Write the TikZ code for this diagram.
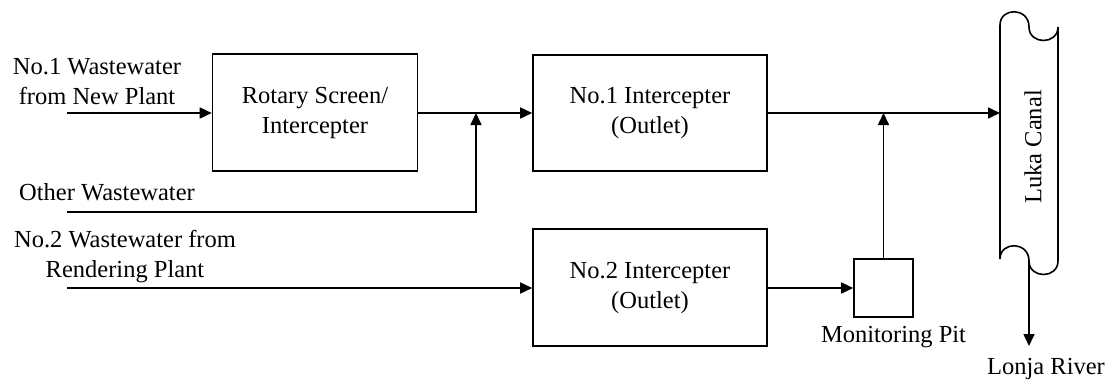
\documentclass[tikz,border=0pt]{standalone}
\usepackage{fontspec}
\setmainfont{Liberation Serif}
\usetikzlibrary{arrows.meta}
\begin{document}
\begin{tikzpicture}[x=1pt,y=-1pt,
  every node/.style={font=\fontsize{24.5}{30}\selectfont, inner sep=0pt},
  box/.style={draw, line width=1.6pt, align=center, minimum width=#1},
  lbl/.style={align=center},
  flow/.style={line width=1.6pt, -{Triangle[length=12pt,width=11pt]}},
  plain/.style={line width=1.6pt}]
\useasboundingbox (0,0) rectangle (1109,381);
\node[box=205pt, minimum height=117pt] (rot) at (315,112.5) {Rotary Screen/\\Intercepter};
\node[box=234pt, minimum height=116pt] (no1) at (650,113) {No.1 Intercepter\\(Outlet)};
\node[box=234pt, minimum height=117pt] (no2) at (650,287.5) {No.2 Intercepter\\(Outlet)};
\node[box=59pt, minimum height=58pt] (pit) at (883.5,288) {};
\node[lbl] (in1) at (97,82) {No.1 Wastewater\\from New Plant};
\node[lbl] (oth) at (107,192) {Other Wastewater};
\node[lbl] (in2) at (125,257) {No.2 Wastewater from\\Rendering Plant};
\node[lbl] (pitl) at (893.5,337) {Monitoring Pit};
\node[lbl] (lonja) at (1046,369) {Lonja River};
\node[rotate=90] (luka) at (1033,147) {Luka Canal};
% canal shape
\draw[plain] (1000,259) -- (1000,25)
  .. controls (1000,7) and (1029,7) .. (1029,27)
  .. controls (1029,45) and (1058,45) .. (1058,27)
  -- (1058,261)
  .. controls (1058,279) and (1029,279) .. (1029,261)
  .. controls (1029,241) and (1000,241) .. (1000,259);
\coordinate (cin) at (1000,113);
\coordinate (cout) at (1029,261);
\coordinate (riv) at (1029,346);
\coordinate (s1) at (67,113);
\coordinate (s2) at (67,212);
\coordinate (s3) at (67,288);
\coordinate (j1) at (476,113);
\coordinate (j1b) at (476,212);
\coordinate (j2) at (883.5,113);
% connectors
\draw[flow] (s1) -- (rot.west |- s1);
\draw[flow] (rot.east |- j1) -- (no1.west |- j1);
\draw[flow] (s2) -- (j1b) -- (j1);
\draw[flow] (no1.east |- j2) -- (cin);
\draw[flow] (pit.north) -- (j2);
\draw[flow] (s3) -- (no2.west |- pit);
\draw[flow] (no2.east |- pit) -- (pit.west);
\draw[flow] (cout) -- (riv);
\end{tikzpicture}
\end{document}
